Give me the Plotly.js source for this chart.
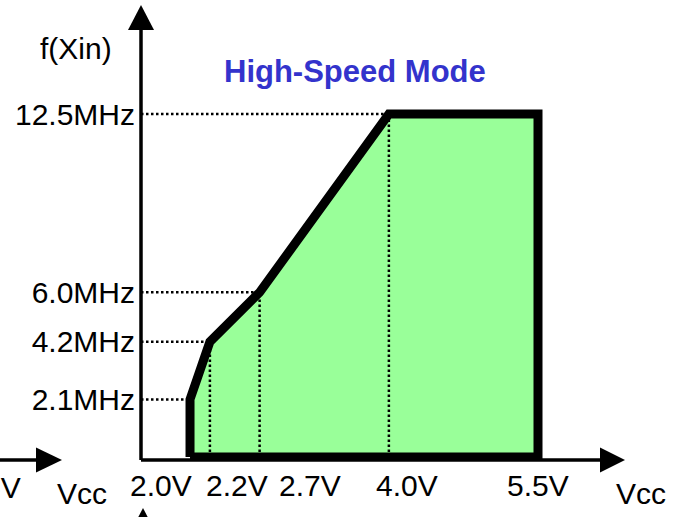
<!DOCTYPE html>
<html>
<head>
<meta charset="utf-8">
<script src="https://cdn.plot.ly/plotly-3.0.1.min.js"></script>
<style>
  html, body { margin: 0; padding: 0; background: #fff; }
  #chart { width: 680px; height: 517px; }
</style>
</head>
<body>
<div id="chart"></div>
<script>
// ---- data ----
const title = 'High-Speed Mode';
const yAxisLabel = 'f(Xin)';
const xAxisLabel = 'Vcc';
const voltages = [2.0, 2.2, 2.7, 4.0, 5.5];
const voltLabels = ['2.0V', '2.2V', '2.7V', '4.0V', '5.5V'];
const freqs = [2.1, 4.2, 6.0, 12.5];
const freqLabels = ['2.1MHz', '4.2MHz', '6.0MHz', '12.5MHz'];
// operating boundary (Vcc in V, f(Xin) in MHz)
const boundaryV = [2.0, 2.0, 2.2, 2.7, 4.0, 5.5, 5.5, 2.0];
const boundaryF = [0, 2.1, 4.2, 6.0, 12.5, 12.5, 0, 0];
// marked corner points
const markV = [2.0, 2.2, 2.7, 4.0];
const markF = [2.1, 4.2, 6.0, 12.5];
// fragment of the neighbouring chart at the left edge
const neighbourLabel = '5.5V';

// ---- layout helpers (pixel geometry) ----
const W = 680, H = 517;
const M = { l: 141, r: 55, t: 5, b: 57 };
const PW = W - M.l - M.r, PH = H - M.t - M.b;
const xRange = [1.507, 6.375];
const yRange = [-0.109, 16.472];
const px = p => (p - M.l) / PW;          // pixel x -> paper x
const py = p => (H - M.b - p) / PH;      // pixel y -> paper y
const FONT = '"Liberation Sans", Arial, sans-serif';
const labelShift = [-29, 27, 50, 18, 0];

// dotted guide lines
const gx = [], gy = [];
markV.forEach((v, i) => {
  gx.push(xRange[0], v, null); gy.push(markF[i], markF[i], null);
  if (i > 0) { gx.push(v, v, null); gy.push(0, markF[i], null); }
});

const traces = [
  { x: boundaryV, y: boundaryF, mode: 'lines', fill: 'toself',
    fillcolor: '#99FF99', line: { width: 0 }, hoverinfo: 'skip' },
  { x: gx, y: gy, mode: 'lines', line: { color: '#000', width: 2.5, dash: '2.5px,2.5px' },
    hoverinfo: 'skip', connectgaps: false },
  { x: boundaryV, y: boundaryF, mode: 'lines',
    line: { color: '#000', width: 9 }, hoverinfo: 'skip' }
];

const annotations = [];
voltages.forEach((v, i) => annotations.push({
  x: v, xref: 'x', y: 0, yref: 'paper', text: voltLabels[i], showarrow: false,
  xanchor: 'center', yanchor: 'middle', yshift: -25, xshift: labelShift[i],
  font: { family: FONT, size: 30, color: '#000' }
}));
annotations.push(
  { x: px(355), y: py(71), xref: 'paper', yref: 'paper', text: '<b>' + title + '</b>',
    showarrow: false, xanchor: 'center', yanchor: 'middle',
    font: { family: FONT, size: 31, color: '#3333CC' } },
  { x: px(76), y: py(48), xref: 'paper', yref: 'paper', text: yAxisLabel,
    showarrow: false, xanchor: 'center', yanchor: 'middle',
    font: { family: FONT, size: 30, color: '#000' } },
  { x: px(641), y: py(493), xref: 'paper', yref: 'paper', text: xAxisLabel,
    showarrow: false, xanchor: 'center', yanchor: 'middle',
    font: { family: FONT, size: 30, color: '#000' } },
  { x: px(82), y: py(493), xref: 'paper', yref: 'paper', text: xAxisLabel,
    showarrow: false, xanchor: 'center', yanchor: 'middle',
    font: { family: FONT, size: 30, color: '#000' } },
  { x: px(23), y: py(487), xref: 'paper', yref: 'paper', text: neighbourLabel,
    showarrow: false, xanchor: 'right', yanchor: 'middle',
    font: { family: FONT, size: 30, color: '#000' } }
);

const axLine = { color: '#000', width: 3.5 };
const shapes = [
  // y axis
  { type: 'line', xref: 'paper', yref: 'paper', x0: 0, x1: 0, y0: 0, y1: py(28), line: axLine },
  { type: 'path', xref: 'paper', yref: 'paper', xsizemode: 'pixel', ysizemode: 'pixel',
    xanchor: 0, yanchor: 1, path: 'M-13,-25 L0,0 L13,-25 Z', fillcolor: '#000', line: { width: 0 } },
  // x axis
  { type: 'line', xref: 'paper', yref: 'paper', x0: 0, x1: px(602), y0: 0, y1: 0, line: axLine },
  { type: 'path', xref: 'paper', yref: 'paper', xsizemode: 'pixel', ysizemode: 'pixel',
    xanchor: px(625), yanchor: 0, path: 'M-25,-12.5 L0,0 L-25,12.5 Z', fillcolor: '#000', line: { width: 0 } },
  // fragments of the neighbouring chart
  { type: 'line', xref: 'paper', yref: 'paper', x0: px(-5), x1: px(40), y0: 0, y1: 0, line: axLine },
  { type: 'path', xref: 'paper', yref: 'paper', xsizemode: 'pixel', ysizemode: 'pixel',
    xanchor: px(62), yanchor: 0, path: 'M-26,-12.5 L0,0 L-26,12.5 Z', fillcolor: '#000', line: { width: 0 } },
  { type: 'path', xref: 'paper', yref: 'paper', xsizemode: 'pixel', ysizemode: 'pixel',
    xanchor: px(143), yanchor: py(508), path: 'M-13,-25 L0,0 L13,-25 Z', fillcolor: '#000', line: { width: 0 } }
];

const layout = {
  width: W, height: H, margin: M,
  paper_bgcolor: '#fff', plot_bgcolor: '#fff',
  showlegend: false,
  xaxis: { range: xRange, showgrid: false, zeroline: false, showline: false,
           showticklabels: false, ticks: '', fixedrange: true },
  yaxis: { range: yRange, showgrid: false, zeroline: false, showline: false,
           tickmode: 'array', tickvals: freqs, ticktext: freqLabels, ticks: '',
           ticklabelstandoff: 5,
           tickfont: { family: FONT, size: 30, color: '#000' }, fixedrange: true },
  annotations: annotations,
  shapes: shapes
};

Plotly.newPlot('chart', traces, layout, { displayModeBar: false, staticPlot: true });
</script>
</body>
</html>
